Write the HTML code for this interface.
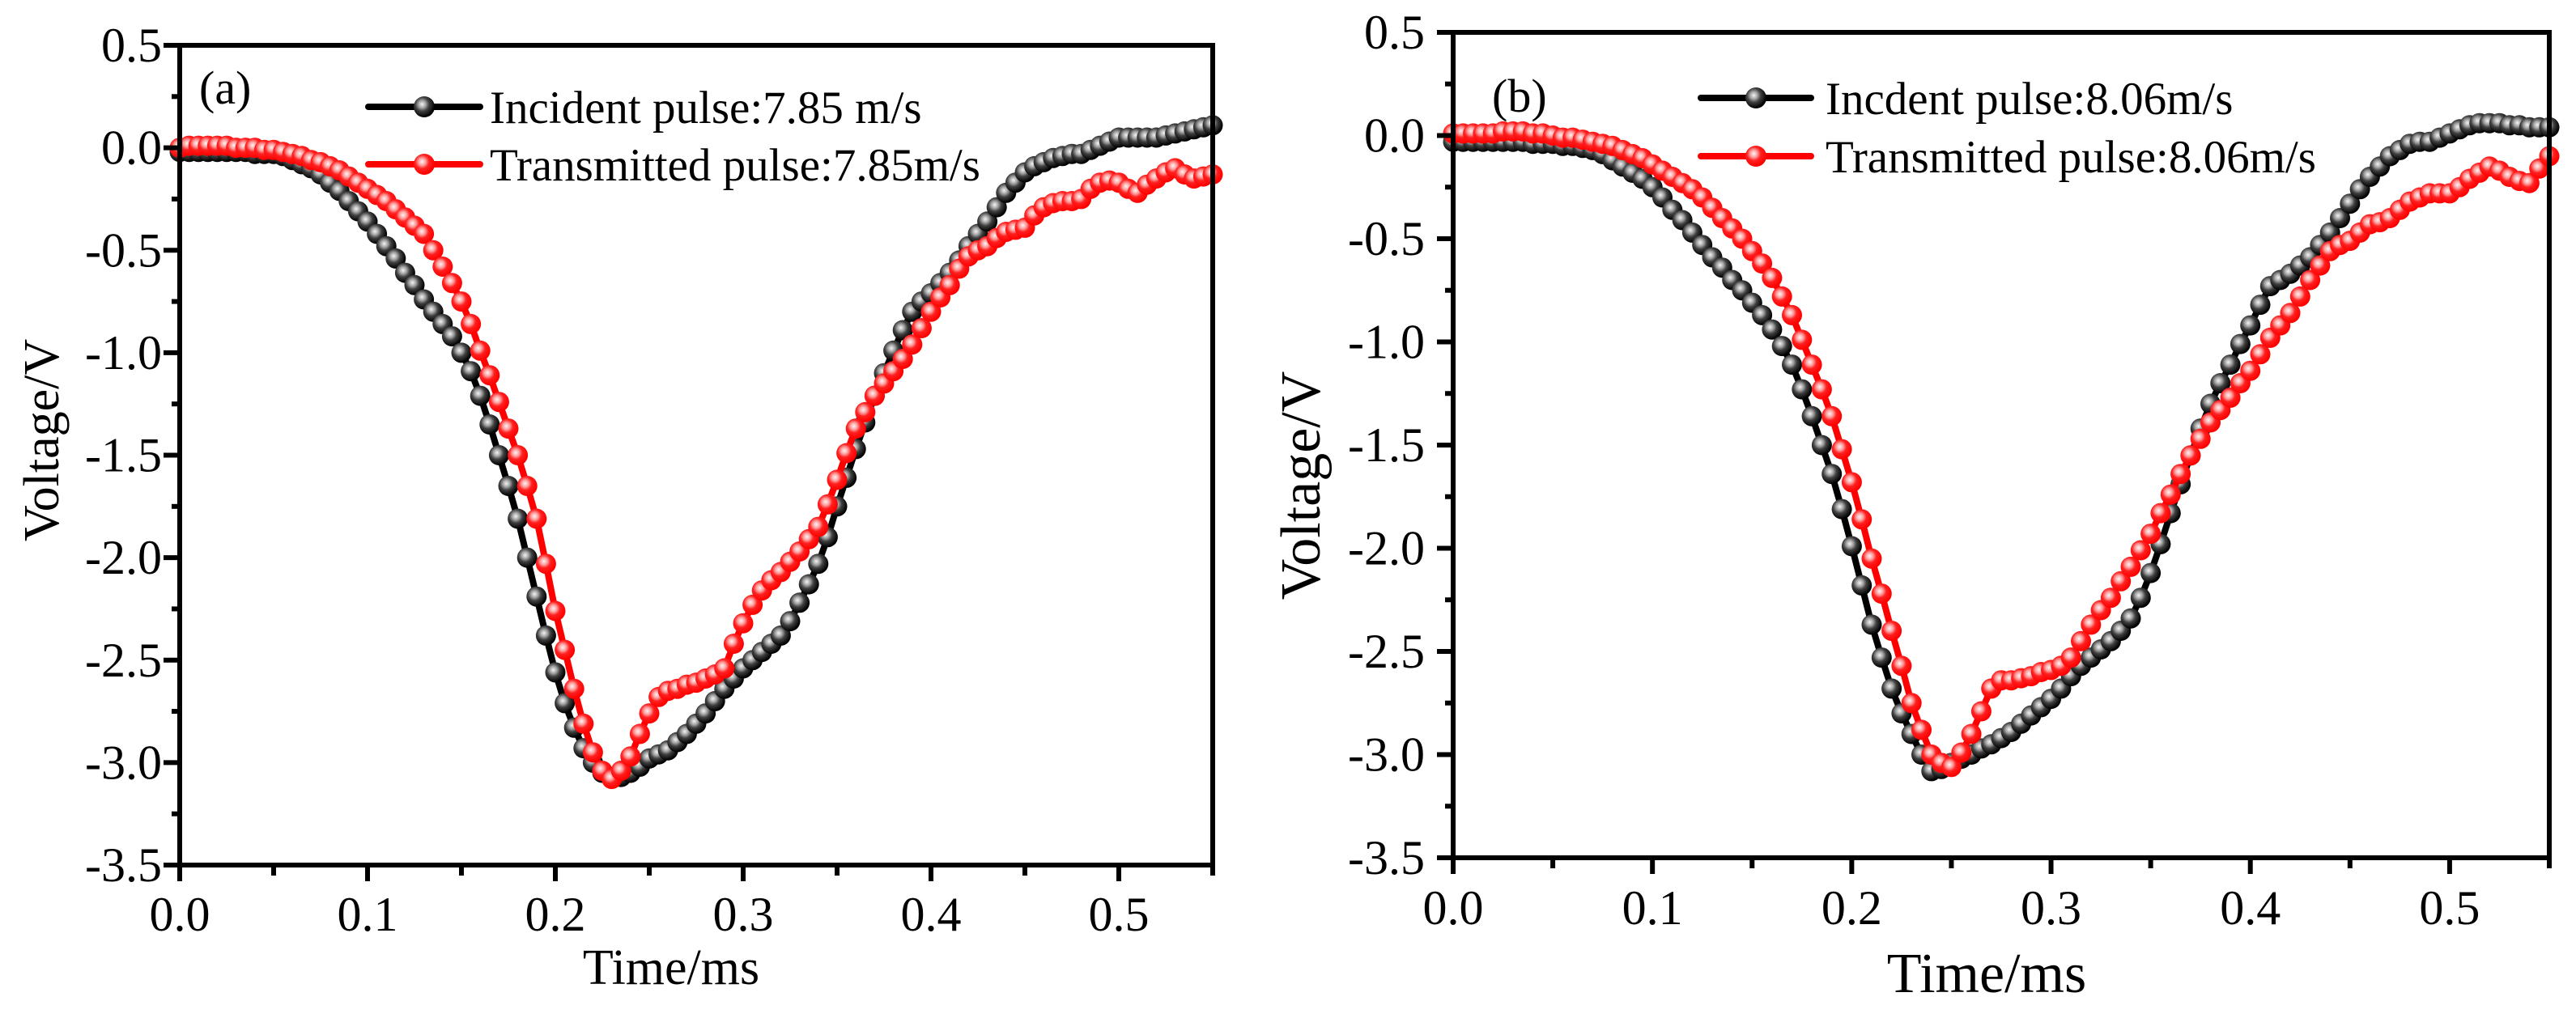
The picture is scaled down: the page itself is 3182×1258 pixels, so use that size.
<!DOCTYPE html>
<html><head><meta charset="utf-8">
<style>
html,body{margin:0;padding:0;background:#fff;}
svg{display:block;}
text{font-family:"Liberation Serif","DejaVu Serif",serif;fill:#000;}
</style></head>
<body>
<svg id="fig" width="3182" height="1258" viewBox="0 0 3182 1258" xmlns="http://www.w3.org/2000/svg">
<defs>
<radialGradient id="gBlack" cx="0.4" cy="0.38" r="0.6">
<stop offset="0" stop-color="#f4f4f4"/><stop offset="0.3" stop-color="#a0a0a0"/><stop offset="0.55" stop-color="#404040"/><stop offset="1" stop-color="#000"/>
</radialGradient>
<radialGradient id="gRed" cx="0.4" cy="0.38" r="0.6">
<stop offset="0" stop-color="#fff4f4"/><stop offset="0.3" stop-color="#ff9a9a"/><stop offset="0.55" stop-color="#ff2020"/><stop offset="1" stop-color="#ff0000"/>
</radialGradient>
</defs>
</svg>
<script>
const timeStep = 0.005;
const incidentA = [-0.02,-0.02,-0.02,-0.02,-0.02,-0.02,-0.02,-0.02,-0.03,-0.03,
-0.03,-0.04,-0.06,-0.08,-0.10,-0.13,-0.17,-0.21,-0.26,-0.31,
-0.36,-0.42,-0.48,-0.54,-0.61,-0.67,-0.74,-0.80,-0.86,-0.92,
-1.00,-1.09,-1.21,-1.35,-1.50,-1.65,-1.81,-2.00,-2.19,-2.38,
-2.56,-2.71,-2.83,-2.93,-3.00,-3.05,-3.07,-3.07,-3.05,-3.02,
-2.98,-2.96,-2.94,-2.90,-2.86,-2.81,-2.76,-2.70,-2.64,-2.59,
-2.54,-2.50,-2.46,-2.42,-2.38,-2.31,-2.22,-2.13,-2.03,-1.90,
-1.75,-1.61,-1.47,-1.34,-1.21,-1.10,-0.99,-0.89,-0.80,-0.75,
-0.71,-0.66,-0.61,-0.55,-0.48,-0.42,-0.36,-0.29,-0.22,-0.17,
-0.12,-0.09,-0.07,-0.05,-0.04,-0.03,-0.03,-0.01,0.01,0.03,
0.05,0.05,0.05,0.05,0.05,0.06,0.07,0.08,0.09,0.10,0.11];
const transmittedA = [0.00,0.01,0.01,0.01,0.01,0.01,0.00,0.00,0.00,-0.01,
-0.01,-0.02,-0.03,-0.04,-0.06,-0.07,-0.09,-0.11,-0.14,-0.17,
-0.20,-0.23,-0.26,-0.30,-0.34,-0.38,-0.42,-0.50,-0.58,-0.66,
-0.75,-0.86,-0.99,-1.11,-1.24,-1.37,-1.50,-1.65,-1.81,-2.03,
-2.26,-2.45,-2.64,-2.81,-2.95,-3.04,-3.08,-3.04,-2.97,-2.86,
-2.76,-2.68,-2.65,-2.64,-2.62,-2.61,-2.59,-2.57,-2.54,-2.42,
-2.32,-2.23,-2.16,-2.11,-2.07,-2.02,-1.97,-1.91,-1.85,-1.74,
-1.62,-1.49,-1.37,-1.29,-1.21,-1.15,-1.09,-1.03,-0.96,-0.88,
-0.80,-0.73,-0.67,-0.59,-0.53,-0.50,-0.48,-0.44,-0.41,-0.40,
-0.39,-0.33,-0.29,-0.27,-0.26,-0.26,-0.25,-0.20,-0.17,-0.16,
-0.17,-0.20,-0.22,-0.18,-0.15,-0.12,-0.10,-0.13,-0.15,-0.14,-0.13];
const incidentB = [-0.03,-0.03,-0.03,-0.03,-0.03,-0.03,-0.03,-0.03,-0.04,-0.04,
-0.04,-0.05,-0.05,-0.06,-0.07,-0.09,-0.12,-0.15,-0.18,-0.21,
-0.25,-0.30,-0.36,-0.41,-0.47,-0.53,-0.59,-0.64,-0.70,-0.75,
-0.81,-0.87,-0.94,-1.02,-1.11,-1.23,-1.36,-1.50,-1.64,-1.81,
-1.99,-2.18,-2.37,-2.53,-2.68,-2.80,-2.90,-3.00,-3.08,-3.07,
-3.04,-3.02,-3.00,-2.97,-2.95,-2.92,-2.89,-2.85,-2.81,-2.77,
-2.73,-2.68,-2.62,-2.57,-2.53,-2.49,-2.45,-2.40,-2.34,-2.24,
-2.12,-1.98,-1.83,-1.69,-1.55,-1.42,-1.30,-1.20,-1.11,-1.01,
-0.92,-0.82,-0.73,-0.70,-0.67,-0.63,-0.59,-0.53,-0.47,-0.40,
-0.33,-0.26,-0.20,-0.15,-0.10,-0.07,-0.04,-0.03,-0.03,-0.01,
0.01,0.03,0.05,0.06,0.06,0.06,0.05,0.05,0.04,0.04,0.04];
const transmittedB = [0.01,0.01,0.01,0.01,0.01,0.02,0.02,0.02,0.01,0.01,
0.00,-0.01,-0.01,-0.02,-0.03,-0.04,-0.05,-0.07,-0.09,-0.11,
-0.14,-0.17,-0.20,-0.23,-0.26,-0.30,-0.35,-0.40,-0.45,-0.50,
-0.56,-0.62,-0.69,-0.78,-0.87,-0.99,-1.11,-1.23,-1.36,-1.52,
-1.68,-1.86,-2.05,-2.22,-2.40,-2.57,-2.75,-2.88,-3.00,-3.04,
-3.06,-2.99,-2.90,-2.79,-2.68,-2.64,-2.64,-2.63,-2.62,-2.60,
-2.59,-2.57,-2.53,-2.45,-2.37,-2.30,-2.24,-2.16,-2.09,-2.01,
-1.93,-1.83,-1.74,-1.64,-1.55,-1.47,-1.39,-1.33,-1.27,-1.20,
-1.14,-1.06,-0.98,-0.92,-0.86,-0.78,-0.70,-0.63,-0.56,-0.53,
-0.51,-0.47,-0.43,-0.42,-0.40,-0.36,-0.32,-0.30,-0.28,-0.28,
-0.28,-0.25,-0.21,-0.18,-0.15,-0.17,-0.20,-0.22,-0.23,-0.16,-0.10];
const xTickLabels = ["0.0","0.1","0.2","0.3","0.4","0.5"];
const yTickLabels = ["0.5","0.0","-0.5","-1.0","-1.5","-2.0","-2.5","-3.0","-3.5"];
const legendA = ["Incident pulse:7.85 m/s","Transmitted pulse:7.85m/s"];
const legendB = ["Incdent pulse:8.06m/s","Transmitted pulse:8.06m/s"];

const NS = "http://www.w3.org/2000/svg";
const svg = document.getElementById('fig');
function mk(tag, attrs, parent){const e=document.createElementNS(NS,tag);for(const k in attrs)e.setAttribute(k,attrs[k]);(parent||svg).appendChild(e);return e;}

function panel(cfg){
  const g = mk('g',{});
  
  
  const X = t => cfg.x0 + (t-0)/(0.55)*(cfg.x1-cfg.x0);
  const Y = v => cfg.y0 + (0.5-v)/4*(cfg.y1-cfg.y0);
  // series
  const series = [[cfg.inc,'#000','url(#gBlack)','incident-series'],[cfg.tr,'#ff0000','url(#gRed)','transmitted-series']];
  series.forEach(([d,col,fill,nm])=>{
    const sg = mk('g',{},g);
    
    
    const pts = d.map((v,i)=>X(i*timeStep).toFixed(1)+','+Y(v).toFixed(1)).join(' ');
    const pl = mk('polyline',{points:pts,fill:'none',stroke:col,'stroke-width':8,'stroke-linejoin':'round'},sg);
    
    
    d.forEach((v,i)=>{
      const c = mk('circle',{cx:X(i*timeStep).toFixed(1),cy:Y(v).toFixed(1),r:12.5,fill:fill},sg);
      
      
    });
  });
  // frame
  const fr = mk('rect',{x:cfg.x0,y:cfg.y0,width:cfg.x1-cfg.x0,height:cfg.y1-cfg.y0,fill:'none',stroke:'#000','stroke-width':6},g);
  
  
  // x ticks
  for(let i=0;i<=11;i++){
    const t=i*0.05, x=X(t), major=i%2===0;
    const tk = mk('line',{x1:x,y1:cfg.y1,x2:x,y2:cfg.y1+(major?20:13),stroke:'#000','stroke-width':6},g);
    
    
  }
  xTickLabels.forEach((s,i)=>{
    const tx = mk('text',{x:X(i*0.1),y:cfg.xLabBase,'font-size':60,'text-anchor':'middle'},g);
    tx.textContent=s;
    
    
  });
  for(let i=0;i<=16;i++){
    const v=0.5-i*0.25, y=Y(v), major=i%2===0;
    const tk = mk('line',{x1:cfg.x0,y1:y,x2:cfg.x0-(major?20:10),y2:y,stroke:'#000','stroke-width':6},g);
    
    
  }
  yTickLabels.forEach((s,i)=>{
    const tx = mk('text',{x:cfg.yLabRight,y:Y(0.5-i*0.5)+20,'font-size':60,'text-anchor':'end'},g);
    tx.textContent=s;
    
    
  });
  const xt = mk('text',{x:cfg.xTitleX,y:cfg.xTitleY,'font-size':cfg.titleSize,'text-anchor':'middle'},g);
  xt.textContent='Time/ms';
  
  
  const yt = mk('text',{x:0,y:0,'font-size':cfg.titleSize,'text-anchor':'middle',transform:`translate(${cfg.yTitleX},${cfg.yTitleY}) rotate(-90)`},g);
  yt.textContent='Voltage/V';
  
  
  const pl = mk('text',{x:cfg.lblX,y:cfg.lblY,'font-size':58},g);
  pl.textContent=cfg.label;
  
  
  // legend
  cfg.legend.forEach((s,i)=>{
    const lg = mk('g',{},g);
    
    
    const y = cfg.legY[i], col = i? '#ff0000':'#000';
    mk('line',{x1:cfg.legX0,y1:y,x2:cfg.legX1,y2:y,stroke:col,'stroke-width':8,'stroke-linecap':'round'},lg);
    mk('circle',{cx:(cfg.legX0+cfg.legX1)/2,cy:y,r:13,fill:i?'url(#gRed)':'url(#gBlack)'},lg);
    const tx = mk('text',{x:cfg.legText,y:y+20,'font-size':57},lg);
    tx.textContent=s;
  });
}

panel({name:'panel-a',prefix:'a-',x0:222,x1:1498,y0:56,y1:1069,inc:incidentA,tr:transmittedA,
  xLabBase:1150,yLabRight:200,xTitleX:829,xTitleY:1216,titleSize:62,yTitleX:72,yTitleY:544,
  label:'(a)',lblX:246,lblY:128,legend:legendA,legY:[132,203],legX0:455,legX1:593,legText:605});
panel({name:'panel-b',prefix:'b-',x0:1795,x1:3149,y0:40,y1:1060,inc:incidentB,tr:transmittedB,
  xLabBase:1142,yLabRight:1760,xTitleX:2454,xTitleY:1226,titleSize:70,yTitleX:1630,yTitleY:600,
  label:'(b)',lblX:1843,lblY:138,legend:legendB,legY:[121,193],legX0:2101,legX1:2237,legText:2255});
</script>
</body></html>
